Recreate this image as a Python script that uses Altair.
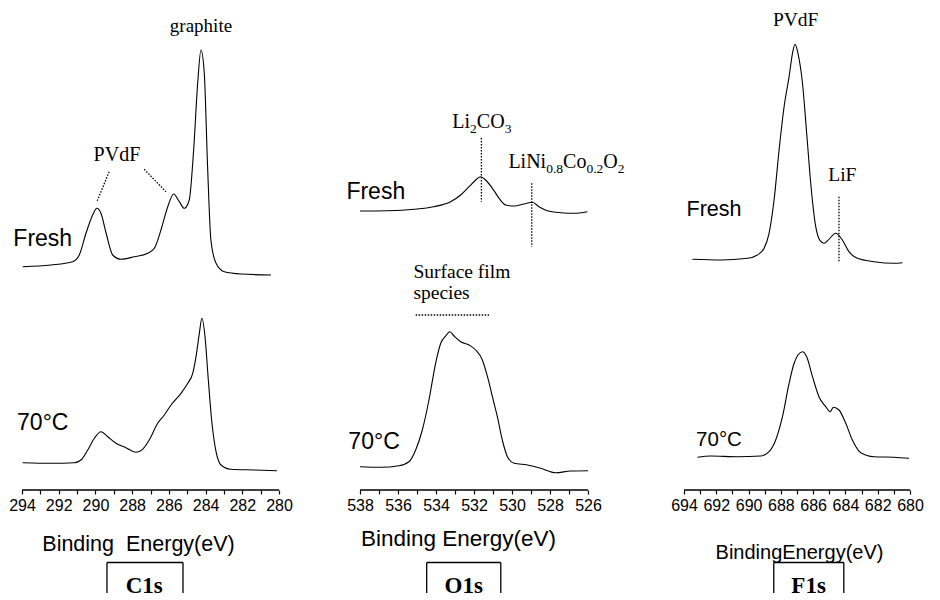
import altair as alt
import pandas as pd

H = 478  # plot height (intensity axis in a.u. == px above the energy axis)
SANS = "Liberation Sans"
SERIF = "Liberation Serif"

# ---------------- C1s ----------------
c1s_fresh_ev = [293.96, 292.42, 291.24, 290.88, 290.51, 290.15, 289.92, 289.70, 289.42, 289.06,
                288.61, 287.88, 287.15, 286.79, 286.43, 286.06, 285.74, 285.43, 285.16, 284.89,
                284.65, 284.43, 284.25, 284.07, 283.89, 283.71, 283.43, 282.98, 282.07, 280.44]
c1s_fresh_int = [223.3, 225.0, 228.3, 235.0, 257.0, 275.0, 281.7, 276.7, 257.0, 235.0,
                 230.7, 233.3, 236.7, 241.7, 260.0, 283.3, 296.0, 288.3, 281.7, 290.0,
                 340.0, 406.7, 440.0, 416.7, 323.3, 250.0, 226.7, 218.3, 216.0, 215.0]
c1s_hot_ev = [293.96, 292.42, 291.15, 290.79, 290.42, 290.06, 289.70, 289.33, 288.88, 288.34,
              287.79, 287.43, 287.07, 286.61, 286.25, 285.88, 285.34, 284.97, 284.70, 284.52,
              284.34, 284.20, 284.03, 283.85, 283.67, 283.43, 283.16, 282.62, 281.35, 280.11]
c1s_hot_int = [27.3, 26.7, 27.3, 30.0, 40.0, 51.7, 58.3, 53.3, 46.7, 42.3,
               37.7, 40.7, 50.0, 66.7, 75.0, 85.0, 96.7, 106.7, 116.7, 133.3,
               156.7, 171.7, 153.3, 110.0, 70.0, 38.3, 25.0, 20.7, 20.0, 19.3]

# ---------------- O1s ----------------
o1s_fresh_ev = [538.0, 536.56, 535.16, 534.11, 533.23, 532.70, 532.26, 531.91, 531.65, 531.39,
                531.03, 530.68, 530.33, 529.89, 529.37, 528.93, 528.58, 528.14, 527.44, 526.74, 526.03]
o1s_fresh_int = [279.0, 279.3, 280.7, 283.3, 288.3, 295.0, 303.3, 310.0, 313.3, 310.0,
                 301.7, 291.7, 285.0, 284.0, 286.0, 287.7, 283.3, 279.3, 277.3, 276.7, 278.3]
o1s_hot_ev = [538.0, 536.91, 535.95, 535.42, 535.07, 534.72, 534.37, 534.02, 533.75, 533.49,
              533.28, 533.05, 532.70, 532.26, 531.91, 531.56, 531.29, 531.03, 530.77, 530.51,
              530.24, 529.89, 529.19, 528.49, 527.70, 526.91, 526.0]
o1s_hot_int = [23.3, 22.7, 24.3, 28.3, 40.0, 60.0, 90.0, 126.7, 146.7, 154.0,
               158.3, 154.0, 148.3, 145.0, 140.0, 130.0, 113.3, 93.3, 73.3, 50.0,
               33.3, 26.7, 25.0, 21.7, 17.3, 19.0, 19.3]

# ---------------- F1s ----------------
f1s_fresh_ev = [693.48, 691.73, 690.07, 689.45, 689.04, 688.73, 688.42, 688.11, 687.80, 687.49,
                687.28, 687.12, 686.94, 686.66, 686.40, 686.15, 685.84, 685.57, 685.33, 685.02,
                684.60, 684.19, 683.78, 683.26, 682.23, 680.99, 680.47]
f1s_fresh_int = [230.7, 230.0, 231.7, 235.0, 241.7, 256.7, 290.0, 340.0, 383.3, 413.3,
                 436.7, 445.7, 436.7, 406.7, 356.7, 306.7, 263.3, 249.3, 246.7, 250.7,
                 256.7, 250.0, 238.3, 231.7, 228.3, 226.7, 227.3]
f1s_hot_ev = [693.17, 692.35, 690.69, 689.25, 688.73, 688.32, 687.90, 687.49, 687.18, 686.94,
              686.66, 686.40, 686.04, 685.64, 685.22, 684.95, 684.74, 684.40, 683.98, 683.57,
              683.05, 682.23, 680.99, 680.06]
f1s_hot_int = [32.7, 34.0, 33.3, 34.0, 38.3, 50.0, 73.3, 106.7, 126.7, 135.0,
               138.3, 133.3, 113.3, 93.3, 83.3, 78.3, 82.7, 80.0, 66.7, 50.0,
               37.3, 33.3, 32.7, 31.7]

# annotations: (text, eV, intensity, font, size, weight, align)
c1s_labels = [("graphite", 284.25, 464, SERIF, 19, "normal", "center"),
              ("PVdF", 288.83, 335, SERIF, 20, "normal", "center"),
              ("Fresh", 292.87, 250.7, SANS, 23, "normal", "center"),
              ("70°C", 292.87, 66.7, SANS, 23, "normal", "center")]
o1s_labels = [("Fresh", 537.17, 298.3, SANS, 23, "normal", "center"),
              ("70°C", 537.26, 48.3, SANS, 23, "normal", "center"),
              ("Surface film", 535.19, 218.3, SERIF, 19.5, "normal", "left"),
              ("species", 535.19, 196.7, SERIF, 19.5, "normal", "left")]
f1s_labels = [("PVdF", 687.08, 470, SERIF, 19.5, "normal", "center"),
              ("LiF", 684.19, 315, SERIF, 19.5, "normal", "center"),
              ("Fresh", 692.14, 280, SANS, 21.5, "normal", "center"),
              ("70°C", 691.83, 50, SANS, 20.5, "normal", "center")]

# rich (subscripted) labels: parts, start eV, baseline intensity
o1s_rich = [([("Li", 0), ("2", 1), ("CO", 0), ("3", 1)], 533.14, 362),
            ([("LiNi", 0), ("0.8", 1), ("Co", 0), ("0.2", 1), ("O", 0), ("2", 1)], 530.19, 322)]

# dotted guide lines: (eV1, I1, eV2, I2)
c1s_guides = [(289.25, 318.3, 289.92, 288.3), (287.34, 320.7, 286.16, 298.3)]
o1s_guides = [(531.61, 352, 531.61, 288.3), (528.96, 306.7, 528.96, 243.3), (535.07, 175, 531.21, 175)]
f1s_guides = [(684.40, 293.3, 684.40, 228.3)]

# boxed core-level labels: (text, eV left, eV right, eV text)
c1s_box = ("C1s", 289.37, 285.23, 287.34)
o1s_box = ("O1s", 534.49, 530.59, 532.54)
f1s_box = ("F1s", 688.44, 684.10, 686.28)
BOX_TOP, BOX_BOTTOM, BOX_TEXT = -72.5, -103, -96

SERIF_W = {"L": 0.611, "i": 0.278, "N": 0.722, "C": 0.667, "O": 0.722, "o": 0.5, ".": 0.25}
for d in "0123456789":
    SERIF_W[d] = 0.5


def panel(lo, hi, view_lo, width, fresh, hot, labels, guides, box, rich, title, tsize, tx, ty):
    # view_lo may extend the plotting window beyond the labelled energy range (right margin)
    X = alt.X("eV:Q", title=title,
              scale=alt.Scale(domain=[view_lo, hi], reverse=True, nice=False, zero=False),
              axis=alt.Axis(values=list(range(lo, hi + 1)), domain=False,
                            labelExpr="datum.value % 2 == 0 ? datum.label : ''",
                            titleFontSize=tsize, titleX=tx, titleY=ty,
                            titleBaseline="middle", titleAlign="center"))
    Y = alt.Y("I:Q", scale=alt.Scale(domain=[0, H], nice=False, zero=False), axis=None)

    df = pd.concat([pd.DataFrame({"eV": fresh[0], "I": fresh[1], "s": "Fresh"}),
                    pd.DataFrame({"eV": hot[0], "I": hot[1], "s": "70C"})])
    layers = [alt.Chart(df).mark_line(color="black", strokeWidth=1.1, interpolate="monotone")
              .encode(x=X, y=Y, detail="s:N")]

    # energy-axis baseline over the labelled range only
    base = pd.DataFrame({"eV": [lo], "eV2": [hi], "I": [0]})
    layers.append(alt.Chart(base).mark_rule(color="black", strokeWidth=1.4)
                  .encode(x=X, x2="eV2:Q", y=Y))

    for (e1, i1, e2, i2) in guides:
        g = pd.DataFrame({"eV": [e1], "I": [i1], "eV2": [e2], "I2": [i2]})
        layers.append(alt.Chart(g).mark_rule(color="black", strokeWidth=1.3, strokeDash=[1.5, 1.5])
                      .encode(x=X, y=Y, x2="eV2:Q", y2="I2:Q"))

    for (t, e, i, font, size, weight, align) in labels:
        d = pd.DataFrame({"eV": [e], "I": [i], "t": [t]})
        layers.append(alt.Chart(d).mark_text(font=font, fontSize=size, fontWeight=weight,
                                             align=align, baseline="middle", color="black")
                      .encode(x=X, y=Y, text="t:N"))

    for (parts, e, i) in rich:
        dx = 0.0
        for (t, sub) in parts:
            fs = 13.5 if sub else 20
            d = pd.DataFrame({"eV": [e], "I": [i], "t": [t]})
            layers.append(alt.Chart(d).mark_text(font=SERIF, fontSize=fs, align="left",
                                                 baseline="alphabetic", dx=dx, dy=5 if sub else 0,
                                                 color="black")
                          .encode(x=X, y=Y, text="t:N"))
            dx += sum(SERIF_W.get(c, 0.5) for c in t) * fs

    bt, bl, br, bx = box
    sides = pd.DataFrame({"eV": [bl, br], "I": [BOX_TOP, BOX_TOP], "I2": [BOX_BOTTOM, BOX_BOTTOM]})
    layers.append(alt.Chart(sides).mark_rule(color="black", strokeWidth=1.3)
                  .encode(x=X, y=Y, y2="I2:Q"))
    top = pd.DataFrame({"eV": [bl], "eV2": [br], "I": [BOX_TOP]})
    layers.append(alt.Chart(top).mark_rule(color="black", strokeWidth=1.3)
                  .encode(x=X, x2="eV2:Q", y=Y))
    bd = pd.DataFrame({"eV": [bx], "I": [BOX_TEXT], "t": [bt]})
    layers.append(alt.Chart(bd).mark_text(font=SERIF, fontSize=23, fontWeight="bold",
                                          baseline="middle", color="black")
                  .encode(x=X, y=Y, text="t:N"))

    return alt.layer(*layers).properties(width=width, height=H)


c1 = panel(280, 294, 280, 257, (c1s_fresh_ev, c1s_fresh_int), (c1s_hot_ev, c1s_hot_int),
           c1s_labels, c1s_guides, c1s_box, [], "Binding\u00a0 Energy(eV)", 21.5, 116, 54)
# O1s window extended 15 px (0.79 eV) to the right so the panels sit as in the figure
c2 = panel(526, 538, 525.21, 243, (o1s_fresh_ev, o1s_fresh_int), (o1s_hot_ev, o1s_hot_int),
           o1s_labels, o1s_guides, o1s_box, o1s_rich, "Binding Energy(eV)", 22.5, 98, 48)
c3 = panel(680, 694, 680, 226, (f1s_fresh_ev, f1s_fresh_int), (f1s_hot_ev, f1s_hot_int),
           f1s_labels, f1s_guides, f1s_box, [], "BindingEnergy(eV)", 20, 115, 62)

chart = (alt.hconcat(c1, c2, c3, spacing=81, bounds="flush")
         .properties(padding={"top": 2, "left": 0, "right": 5, "bottom": 0}, background="white")
         .configure_view(stroke=None)
         .configure_axis(tickColor="black", tickWidth=1.2,
                         tickSize=4, labelFont=SANS, labelFontSize=16, labelColor="black",
                         labelPadding=3, titleFont=SANS, titleFontWeight="normal", titleColor="black",
                         grid=False, labelFlush=False, labelOverlap=False))

chart.save("out.html", embed_options={"renderer": "svg", "actions": False})
